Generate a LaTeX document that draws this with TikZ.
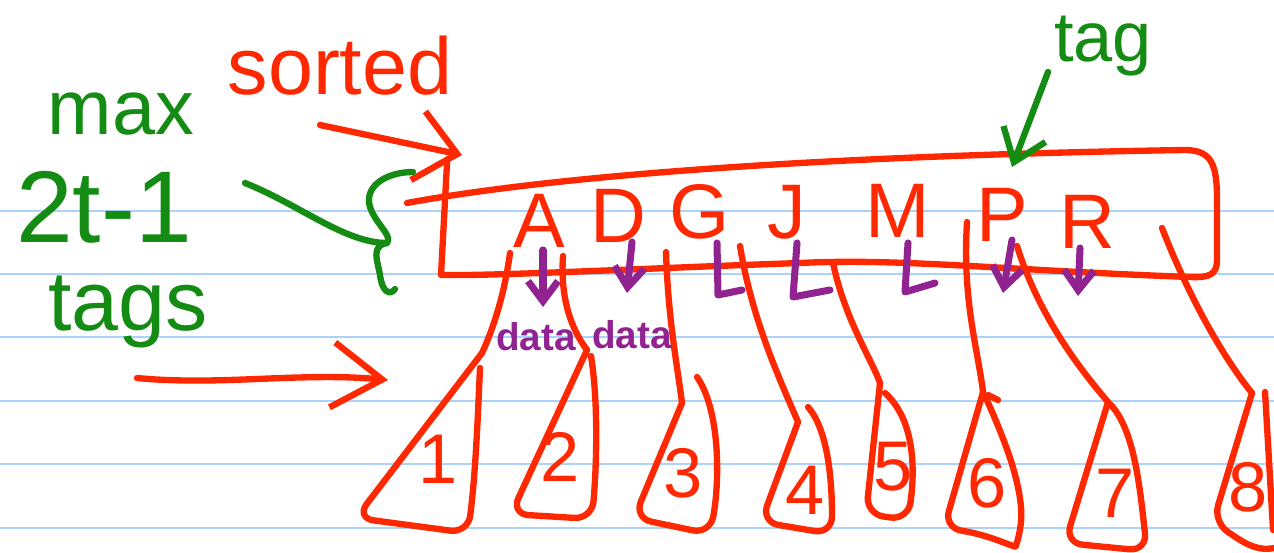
\documentclass[tikz,border=0pt]{standalone}
\usepackage{fontspec}
\setmainfont{Liberation Sans}
\usepackage{tikz}
\usepackage{xcolor}
\usetikzlibrary{arrows.meta}

\definecolor{inkred}{RGB}{255,40,0}
\definecolor{inkgreen}{RGB}{20,140,20}
\definecolor{inkpurple}{RGB}{145,35,145}
\definecolor{ruleblue}{RGB}{170,210,250}

\begin{document}
\begin{tikzpicture}[x=0.01cm, y=-0.01cm,
    redline/.style={inkred, line width=1.8pt, line cap=round, line join=round},
    greenline/.style={inkgreen, line width=1.8pt, line cap=round, line join=round},
    purpleline/.style={inkpurple, line width=2pt, line cap=round, line join=round},
    key/.style={inkred, font=\fontsize{22}{24}\selectfont, inner sep=0pt},
    leaf/.style={inkred, font=\fontsize{20}{22}\selectfont, inner sep=0pt},
    note/.style={inkgreen, inner sep=0pt, anchor=base},
    datalabel/.style={inkpurple, font=\bfseries\fontsize{11}{12}\selectfont, inner sep=0pt, anchor=base}]
  \useasboundingbox (0,0) rectangle (1274,552);
  \fill[white] (0,0) rectangle (1274,552);
  % ruled paper
  \foreach \y in {211,274,337,401,464,528}
    \draw[ruleblue, line width=0.6pt] (0,\y) -- (1274,\y);

  % notes on the left
  \node[note, font=\fontsize{22}{24}\selectfont] (max) at (121,135) {max};
  \node[note, font=\fontsize{29}{32}\selectfont] (twot) at (104,243) {2t-1};
  \node[note, font=\fontsize{24}{26}\selectfont] (tags) at (128,330) {tags};
  \node[note, inkred, font=\fontsize{23}{25}\selectfont] (sorted) at (340,95) {sorted};
  \node[note, font=\fontsize{20}{22}\selectfont] (tag) at (1103,62) {tag};

  % the node box
  \draw[redline] (407,203) .. controls (520,182) and (750,157) .. (1185,150)
    .. controls (1212,150) and (1217,165) .. (1217,200) -- (1217,260)
    .. controls (1217,274) and (1210,278) .. (1190,277)
    .. controls (1000,270) and (900,258) .. (800,263)
    .. controls (650,268) and (500,276) .. (441,275) -- (447,163);

  % keys
  \node[key] (kA) at (539,221) {A};
  \node[key] (kD) at (618,216) {D};
  \node[key] (kG) at (700,212) {G};
  \node[key] (kJ) at (787,212) {J};
  \node[key] (kM) at (898,211) {M};
  \node[key] (kP) at (1002,215) {P};
  \node[key] (kR) at (1087,222) {R};

  % arrows of the notes
  \coordinate (srtA) at (320,125);
  \coordinate (srtB) at (462,155);
  \draw[redline, -{Straight Barb[length=4mm,width=7mm]}] (srtA) -- (srtB);
  \coordinate (tgsA) at (137,378);
  \coordinate (tgsB) at (388,380);
  \draw[redline, -{Straight Barb[length=5mm,width=6.5mm]}] (tgsA)
    .. controls (220,386) and (300,372) .. (tgsB);
  \coordinate (tagA) at (1048,72);
  \coordinate (tagB) at (1012,167);
  \draw[greenline, -{Straight Barb[length=3mm,width=4.5mm]}] (tagA) -- (tagB);
  \coordinate (mxA) at (245,183);
  \coordinate (brMid) at (387,243);
  \draw[greenline] (mxA) .. controls (300,205) and (345,243) .. (brMid);
  \draw[greenline] (413,172) .. controls (385,172) and (360,188) .. (372,212)
    .. controls (380,228) and (392,236) .. (brMid)
    .. controls (370,246) and (378,262) .. (380,275)
    .. controls (382,292) and (390,296) .. (395,289);

  % child pointers
  \coordinate (p1) at (510,253); \coordinate (t1) at (482,353);
  \coordinate (p2) at (563,256); \coordinate (t2) at (587,350);
  \coordinate (p3) at (666,252); \coordinate (t3) at (682,403);
  \coordinate (p4) at (740,246); \coordinate (t4) at (798,422);
  \coordinate (p5) at (833,263); \coordinate (t5) at (880,383);
  \coordinate (p6) at (967,222); \coordinate (t6) at (983,392);
  \coordinate (p7) at (1017,246); \coordinate (t7) at (1108,402);
  \coordinate (p8) at (1162,228); \coordinate (t8) at (1252,393);
  \draw[redline] (p1) .. controls (505,290) and (495,325) .. (t1);
  \draw[redline] (p2) .. controls (560,300) and (572,330) .. (t2);
  \draw[redline] (p3) .. controls (668,320) and (678,370) .. (t3);
  \draw[redline] (p4) .. controls (752,320) and (780,380) .. (t4);
  \draw[redline] (p5) .. controls (845,320) and (872,360) .. (t5);
  \draw[redline] (p6) .. controls (962,300) and (978,350) .. (t6);
  \draw[redline] (p7) .. controls (1040,320) and (1085,375) .. (t7);
  \draw[redline] (p8) .. controls (1190,300) and (1225,360) .. (t8);

  % subtrees
  \draw[redline, rounded corners=5pt] (t1) -- (356,518) -- (468,533)
    .. controls (476,470) and (478,410) .. (480,368);
  \draw[redline, rounded corners=5pt] (t2) -- (511,514) -- (592,519)
    .. controls (597,460) and (598,400) .. (591,356);
  \draw[redline, rounded corners=5pt] (t3) -- (634,518) -- (710,534)
    .. controls (720,480) and (720,410) .. (697,377);
  \draw[redline, rounded corners=5pt] (t4) -- (761,522) -- (832,534)
    .. controls (832,480) and (828,430) .. (808,407);
  \draw[redline, rounded corners=5pt] (t5) -- (866,514) -- (908,520)
    .. controls (915,470) and (915,420) .. (885,393);
  \draw[redline, rounded corners=5pt] (t6) -- (944,528)
    .. controls (990,535) and (1015,548) .. (1022,530)
    .. controls (1020,480) and (1005,440) .. (985,396);
  \draw[redline] (988,395) -- (998,400);
  \draw[redline, rounded corners=5pt] (t7) -- (1065,543) -- (1147,551)
    .. controls (1140,490) and (1135,430) .. (1110,404);
  \draw[redline, rounded corners=5pt] (t8) -- (1213,522)
    .. controls (1240,540) and (1255,552) .. (1274,548);
  \draw[redline] (1265,392) -- (1273,530);

  % subtree numbers
  \foreach \i/\nx/\ny in {1/438/459, 2/560/457, 3/683/473, 4/805/490,
      5/893/467, 6/987/483, 7/1115/493, 8/1248/487}
    \node[leaf] (n\i) at (\nx,\ny) {\i};

  % data pointers
  \draw[purpleline, -{Straight Barb[length=2mm,width=3mm]}] (543,250) -- (543,307);
  \draw[purpleline, -{Straight Barb[length=2mm,width=3mm]}] (632,242) -- (627,293);
  \node[datalabel] (dA) at (536,350) {data};
  \node[datalabel] (dD) at (632,348) {data};
  \draw[purpleline] (717,243) -- (718,295) -- (742,290);
  \draw[purpleline] (797,243) -- (793,297) -- (830,290);
  \draw[purpleline] (908,243) -- (905,292) -- (935,283);
  \draw[purpleline, -{Straight Barb[length=2mm,width=3mm]}] (1012,240) -- (1003,293);
  \draw[purpleline, -{Straight Barb[length=2mm,width=3mm]}] (1080,248) -- (1078,296);
\end{tikzpicture}
\end{document}
